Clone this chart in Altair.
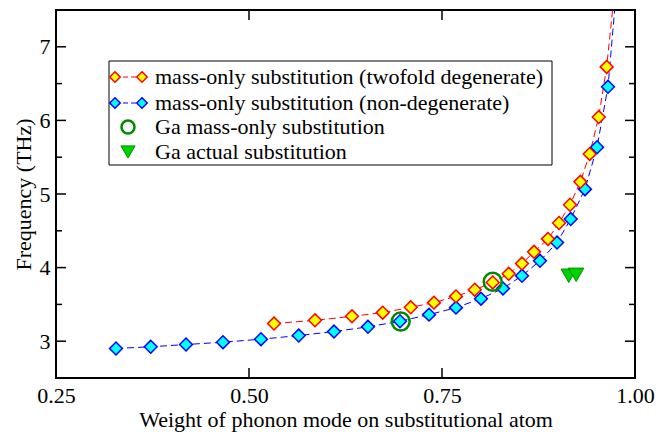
import altair as alt
import pandas as pd

# ---- data ----
deg_x = [0.5324, 0.5855, 0.6334, 0.6732, 0.7095, 0.7396, 0.7681, 0.7924, 0.8157,
         0.8364, 0.8536, 0.8692, 0.8873, 0.9016, 0.9158, 0.9292, 0.9413, 0.9530,
         0.9633, 0.9750]
deg_y = [3.240, 3.284, 3.338, 3.388, 3.460, 3.524, 3.609, 3.700, 3.798,
         3.916, 4.055, 4.214, 4.390, 4.606, 4.854, 5.165, 5.544, 6.045,
         6.727, 7.900]
non_x = [0.3277, 0.3727, 0.4184, 0.4663, 0.5155, 0.5644, 0.6101, 0.6541, 0.6956,
         0.7332, 0.7681, 0.8005, 0.8290, 0.8536, 0.8769, 0.8990, 0.9167, 0.9352,
         0.9508, 0.9650, 0.9770]
non_y = [2.901, 2.924, 2.955, 2.986, 3.027, 3.077, 3.131, 3.195, 3.271,
         3.361, 3.456, 3.578, 3.717, 3.889, 4.092, 4.340, 4.660, 5.066,
         5.635, 6.456, 7.900]
ga_mass_x = [0.6965, 0.8157]
ga_mass_y = [3.267, 3.807]
ga_act_x = [0.9142, 0.9238]
ga_act_y = [3.889, 3.902]

x_labels = [0.25, 0.50, 0.75, 1.00]
y_labels = [3, 4, 5, 6, 7]
x_major_ticks = [0.50, 0.75]
y_major_ticks = [3, 4, 5, 6, 7]
y_minor_ticks = [3.5, 4.5, 5.5, 6.5]

legend_labels = [
    "mass-only substitution (twofold degenerate)",
    "mass-only substitution (non-degenerate)",
    "Ga mass-only substitution",
    "Ga actual substitution",
]

# ---- layout / style ----
W, H = 579, 368
FONT = "Liberation Serif"
RED, YEL = "#ff0000", "#ffff00"
BLU, CYA = "#0000ff", "#00ffff"
DGREEN = "#008a00"
TRI_FILL, TRI_STROKE = "#00d200", "#008f00"

xs = alt.Scale(domain=[0.25, 1.0], nice=False, zero=False)
ys = alt.Scale(domain=[2.5, 7.5], nice=False, zero=False)

deg = pd.DataFrame({"x": deg_x, "y": deg_y})
non = pd.DataFrame({"x": non_x, "y": non_y})
gam = pd.DataFrame({"x": ga_mass_x, "y": ga_mass_y})
gaa = pd.DataFrame({"x": ga_act_x, "y": ga_act_y})

X0 = alt.X("x:Q", scale=xs, title="Weight of phonon mode on substitutional atom",
           axis=alt.Axis(values=x_labels, format=".2f", labelFlush=False,
                         labelOverlap=False, labelPadding=7, titlePadding=3))
Y0 = alt.Y("y:Q", scale=ys, title="Frequency (THz)",
           axis=alt.Axis(values=y_labels, format="d", labelPadding=6,
                         titlePadding=4))

dash = [7, 4]
deg_line = alt.Chart(deg).mark_line(color=RED, strokeDash=dash, strokeWidth=1, clip=True).encode(x=X0, y=Y0)
non_line = alt.Chart(non).mark_line(color=BLU, strokeDash=dash, strokeWidth=1, clip=True).encode(x=X0, y=Y0)
deg_pts = alt.Chart(deg).mark_point(shape="diamond", filled=True, fill=YEL, stroke=RED,
                                    strokeWidth=1.5, size=165, opacity=1, clip=True).encode(x=X0, y=Y0)
non_pts = alt.Chart(non).mark_point(shape="diamond", filled=True, fill=CYA, stroke=BLU,
                                    strokeWidth=1.5, size=165, opacity=1, clip=True).encode(x=X0, y=Y0)
gam_pts = alt.Chart(gam).mark_point(shape="circle", filled=False, stroke=DGREEN,
                                    strokeWidth=2.5, size=320, opacity=1).encode(x=X0, y=Y0)
gaa_pts = alt.Chart(gaa).mark_point(shape="triangle-down", filled=True, fill=TRI_FILL,
                                    stroke=TRI_STROKE, strokeWidth=1, size=240, opacity=1).encode(x=X0, y=Y0)

# ---- inward ticks on all four sides ----
tick_style = dict(color="black", strokeWidth=1.5)
xt = pd.DataFrame({"x": x_major_ticks})
ytM = pd.DataFrame({"y": y_major_ticks})
ytm = pd.DataFrame({"y": y_minor_ticks})
ticks = [
    alt.Chart(xt).mark_rule(**tick_style).encode(x=X0, y=alt.value(H), y2=alt.value(H - 10)),
    alt.Chart(xt).mark_rule(**tick_style).encode(x=X0, y=alt.value(0), y2=alt.value(10)),
    alt.Chart(ytM).mark_rule(**tick_style).encode(y=Y0, x=alt.value(0), x2=alt.value(10)),
    alt.Chart(ytM).mark_rule(**tick_style).encode(y=Y0, x=alt.value(W), x2=alt.value(W - 10)),
    alt.Chart(ytm).mark_rule(**tick_style).encode(y=Y0, x=alt.value(0), x2=alt.value(6)),
    alt.Chart(ytm).mark_rule(**tick_style).encode(y=Y0, x=alt.value(W), x2=alt.value(W - 6)),
]

# ---- hand-drawn legend box ----
one = pd.DataFrame({"a": [0]})
box = alt.Chart(one).mark_rect(fill="white", stroke="black", strokeWidth=1).encode(
    x=alt.value(53), x2=alt.value(496), y=alt.value(51), y2=alt.value(155))
rows_y = [67, 93, 117, 142]
leg = [box]
for lab, ry in zip(legend_labels, rows_y):
    leg.append(alt.Chart(one).mark_text(align="left", baseline="middle", font=FONT,
                                        fontSize=22, color="black", text=lab).encode(
        x=alt.value(99), y=alt.value(ry)))
for ry, (lc, fc) in zip(rows_y[:2], [(RED, YEL), (BLU, CYA)]):
    leg.append(alt.Chart(one).mark_rule(color=lc, strokeDash=[5, 3], strokeWidth=1).encode(
        x=alt.value(59), x2=alt.value(86), y=alt.value(ry)))
    for sx in (59, 86):
        leg.append(alt.Chart(one).mark_point(shape="diamond", filled=True, fill=fc, stroke=lc,
                                             strokeWidth=1.5, size=110, opacity=1).encode(
            x=alt.value(sx), y=alt.value(ry)))
leg.append(alt.Chart(one).mark_point(shape="circle", filled=False, stroke=DGREEN,
                                     strokeWidth=2.5, size=170, opacity=1).encode(
    x=alt.value(72), y=alt.value(rows_y[2])))
leg.append(alt.Chart(one).mark_point(shape="triangle-down", filled=True, fill=TRI_FILL,
                                     stroke=TRI_STROKE, strokeWidth=1, size=200, opacity=1).encode(
    x=alt.value(72), y=alt.value(rows_y[3])))

chart = alt.layer(
    deg_line, non_line, *ticks, *leg, non_pts, deg_pts, gam_pts, gaa_pts
).properties(
    width=W, height=H,
    autosize=alt.AutoSizeParams(type="none"),
    padding={"left": 56, "top": 10, "right": 21, "bottom": 54},
    background="white",
).configure_view(
    stroke="black", strokeWidth=2
).configure_axis(
    labelFont=FONT, titleFont=FONT, labelFontSize=22, titleFontSize=22,
    labelColor="black", titleColor="black", titleFontWeight="normal",
    grid=False, ticks=False, domain=False,
)

chart.save("out.html", embed_options={"renderer": "svg", "actions": False})
